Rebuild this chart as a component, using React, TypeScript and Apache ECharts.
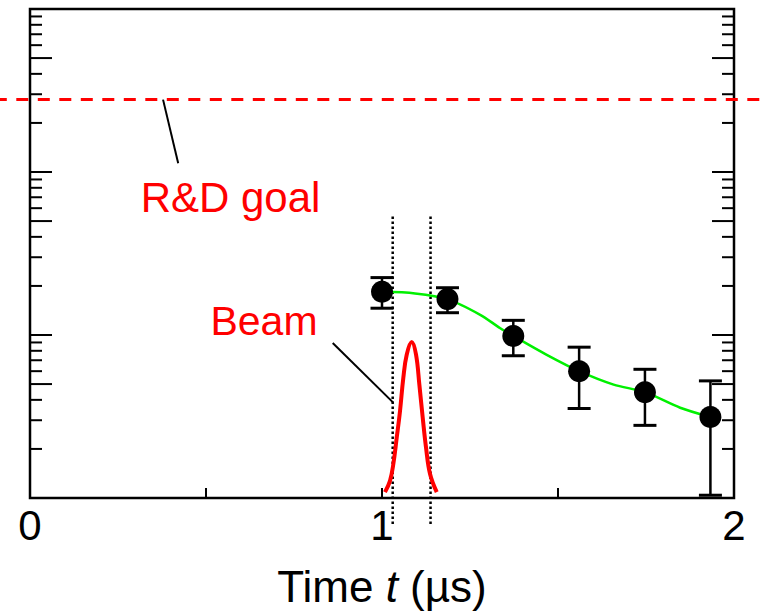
import React, { useEffect, useRef } from "react";
import * as echarts from "echarts";

const FONT = "'Liberation Sans', Arial, sans-serif";

// Measured points: time (µs), value, lower and upper error limits
const times = [1.0, 1.186, 1.373, 1.56, 1.747, 1.933];
const values = [18.4, 16.6, 9.87, 6.0, 4.46, 3.14];
const errLow = [14.6, 13.7, 7.46, 3.54, 2.79, 1.04];
const errHigh = [22.5, 19.5, 12.3, 8.42, 6.16, 5.23];

// Fitted curve through the measurements
const fitTimes = [1.0, 1.094, 1.186, 1.279, 1.336, 1.373, 1.468, 1.56, 1.658, 1.747, 1.847, 1.933];
const fitValues = [18.4, 18.0, 16.6, 13.3, 11.0, 9.87, 7.56, 6.0, 4.96, 4.46, 3.58, 3.14];

// Beam pulse profile (arbitrary units, 0..1 of the frame height)
const beamTimes = [1.0085, 1.0227, 1.0321, 1.0418, 1.0512, 1.0606, 1.0702, 1.0844, 1.0967, 1.1061, 1.1157, 1.1251, 1.1365, 1.1555];
const beamLevels = [0.012, 0.035, 0.069, 0.123, 0.178, 0.246, 0.293, 0.319, 0.293, 0.232, 0.164, 0.103, 0.049, 0.012];

// Time window markers
const windowTimes = [1.0304, 1.1379];
const windowSpan = [-0.053, 0.577];

// R&D goal level
const goalLevel = 278;
const goalSpan = [-0.1, 2.1];

// Leader lines for the annotations
const goalLeader = [[0.378, 278], [0.421, 113]];
const beamLeader = [[0.86, 0.317], [1.032, 0.195]];

// Logarithmic axis ticks
const logTicks = [1, 2, 3, 4, 5, 6, 7, 8, 9, 10, 20, 30, 40, 50, 60, 70, 80, 90, 100, 200, 300, 400, 500, 600, 700, 800, 900, 1000];
const logMajor = [1, 5, 10, 50, 100, 500, 1000];

const xLabels = [0, 1, 2];

export default function App() {
  const ref = useRef<HTMLDivElement>(null);

  useEffect(() => {
    if (!ref.current) return;
    const chart = echarts.init(ref.current, undefined, { renderer: "svg" });

    const option: any = {
      animation: false,
      backgroundColor: "#fff",
      grid: {
        left: 30,
        top: 9,
        width: 704,
        height: 492,
        show: true,
        borderColor: "#000",
        borderWidth: 2.5,
        backgroundColor: "transparent",
      },
      xAxis: {
        type: "value",
        min: 0,
        max: 2,
        interval: 0.5,
        axisLine: { show: false },
        axisTick: { show: true, inside: true, length: 10, lineStyle: { color: "#000", width: 2 } },
        splitLine: { show: false },
        axisLabel: {
          margin: 6,
          fontSize: 42,
          fontFamily: FONT,
          color: "#000",
          formatter: (v: number) => (xLabels.includes(v) ? String(v) : ""),
        },
        name: "Time {i|t} (µs)",
        nameLocation: "middle",
        nameGap: 66,
        nameTextStyle: {
          fontSize: 44,
          fontFamily: FONT,
          color: "#000",
          rich: { i: { fontSize: 44, fontFamily: FONT, fontStyle: "italic", color: "#000" } },
        },
      },
      yAxis: [
        {
          type: "log",
          logBase: 10,
          min: 1,
          max: 1000,
          axisLine: { show: false },
          axisTick: { show: false },
          axisLabel: { show: false },
          splitLine: { show: false },
        },
        {
          type: "value",
          min: 0,
          max: 1,
          show: false,
          splitLine: { show: false },
        },
      ],
      graphic: [
        {
          type: "text",
          x: 230.5,
          y: 197,
          style: { text: "R&D goal", fill: "#ff0000", font: `42px ${FONT}`, align: "center", verticalAlign: "middle" },
        },
        {
          type: "text",
          x: 264,
          y: 320.5,
          style: { text: "Beam", fill: "#ff0000", font: `41px ${FONT}`, align: "center", verticalAlign: "middle" },
        },
      ],
      series: [
        {
          type: "custom",
          name: "log ticks",
          silent: true,
          encode: { x: 0, y: 1 },
          data: logTicks.map((v) => [0, v, logMajor.includes(v) ? 1 : 0]),
          renderItem: (_p: any, api: any) => {
            const v = api.value(1);
            const len = api.value(2) ? 22 : 12;
            const L = api.coord([0, v]);
            const R = api.coord([2, v]);
            const st = { stroke: "#000", lineWidth: 2 };
            return {
              type: "group",
              children: [
                { type: "line", shape: { x1: L[0], y1: L[1], x2: L[0] + len, y2: L[1] }, style: st },
                { type: "line", shape: { x1: R[0], y1: R[1], x2: R[0] - len, y2: R[1] }, style: st },
              ],
            };
          },
          z: 5,
        },
        {
          // goal level, extended past both sides of the frame
          type: "custom",
          name: "R&D goal",
          silent: true,
          clip: false,
          encode: { x: 0, y: 1 },
          data: [[goalSpan[0], goalLevel, goalSpan[1]]],
          renderItem: (_p: any, api: any) => {
            const y = api.value(1);
            const a = api.coord([api.value(0), y]);
            const b = api.coord([api.value(2), y]);
            return {
              type: "line",
              shape: { x1: a[0], y1: a[1], x2: b[0], y2: b[1] },
              style: { stroke: "#ff0000", lineWidth: 3, lineDash: [12, 9.5], lineDashOffset: 0 },
            };
          },
          z: 3,
        },
        {
          type: "line",
          name: "goal leader",
          silent: true,
          symbol: "none",
          data: goalLeader,
          lineStyle: { color: "#000", width: 2 },
          z: 3,
        },
        {
          type: "line",
          name: "beam leader",
          silent: true,
          symbol: "none",
          yAxisIndex: 1,
          data: beamLeader,
          lineStyle: { color: "#000", width: 2 },
          z: 3,
        },
        ...windowTimes.map((t, i) => ({
          type: "line",
          name: "window " + i,
          silent: true,
          clip: false,
          symbol: "none",
          yAxisIndex: 1,
          data: windowSpan.map((y) => [t, y]),
          lineStyle: { color: "#000", width: 2.5, type: [2.5, 2.5], opacity: 1 },
          z: 3,
        })),
        {
          type: "line",
          name: "Beam",
          silent: true,
          symbol: "none",
          smooth: 0.4,
          yAxisIndex: 1,
          data: beamTimes.map((t, i) => [t, beamLevels[i]]),
          lineStyle: { color: "#ff0000", width: 4 },
          z: 4,
        },
        {
          type: "line",
          name: "fit",
          silent: true,
          symbol: "none",
          smooth: 0.3,
          data: fitTimes.map((t, i) => [t, fitValues[i]]),
          lineStyle: { color: "#00f000", width: 2.5 },
          z: 4,
        },
        {
          type: "custom",
          name: "errors",
          silent: true,
          encode: { x: 0, y: [1, 2] },
          data: times.map((t, i) => [t, errLow[i], errHigh[i]]),
          renderItem: (_p: any, api: any) => {
            const x = api.value(0);
            const lo = api.coord([x, api.value(1)]);
            const hi = api.coord([x, api.value(2)]);
            const half = 11.5;
            const st = { stroke: "#000", lineWidth: 2.5 };
            const cap = { stroke: "#000", lineWidth: 3 };
            return {
              type: "group",
              children: [
                { type: "line", shape: { x1: lo[0], y1: lo[1], x2: hi[0], y2: hi[1] }, style: st },
                { type: "line", shape: { x1: lo[0] - half, y1: lo[1], x2: lo[0] + half, y2: lo[1] }, style: cap },
                { type: "line", shape: { x1: hi[0] - half, y1: hi[1], x2: hi[0] + half, y2: hi[1] }, style: cap },
              ],
            };
          },
          z: 6,
        },
        {
          type: "scatter",
          name: "data",
          symbol: "circle",
          symbolSize: 22,
          itemStyle: { color: "#000", opacity: 1 },
          data: times.map((t, i) => [t, values[i]]),
          z: 7,
        },
      ],
    };

    chart.setOption(option);
    return () => chart.dispose();
  }, []);

  return (
    <div
      ref={ref}
      style={{ position: "fixed", left: 0, top: 0, width: 767, height: 613, background: "#fff" }}
    />
  );
}
